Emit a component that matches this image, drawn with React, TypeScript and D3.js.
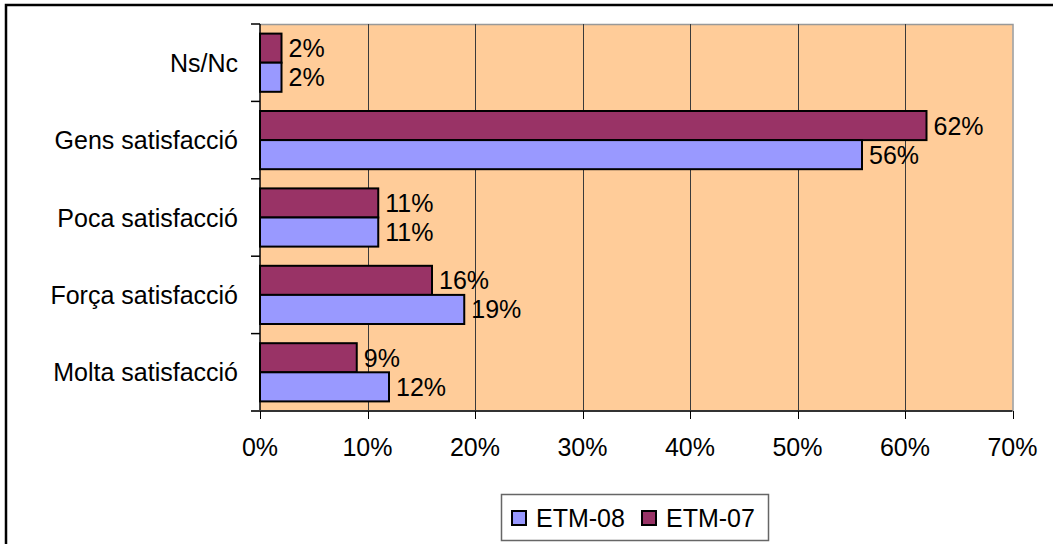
import React from "react";
import * as d3 from "d3";

const categories = ["Ns/Nc", "Gens satisfacció", "Poca satisfacció", "Força satisfacció", "Molta satisfacció"];
const etm08 = [2, 56, 11, 19, 12];
const etm07 = [2, 62, 11, 16, 9];
const xTicks = [0, 10, 20, 30, 40, 50, 60, 70];
const seriesNames = ["ETM-07", "ETM-08"];
const legendNames = ["ETM-08", "ETM-07"];

const W = 1053;
const H = 544;
const plot = { left: 260, top: 24, right: 1012.5, bottom: 411 };
const colors: Record<string, string> = { "ETM-07": "#993366", "ETM-08": "#9999FF" };
const FONT = "'Liberation Sans', Arial, sans-serif";

export default function App() {
  const x = d3.scaleLinear().domain([0, 70]).range([plot.left, plot.right]);
  const y = d3.scaleBand<string>().domain(categories).range([plot.top, plot.bottom]).padding(0);
  const inner = d3
    .scaleBand<string>()
    .domain(seriesNames)
    .range([0, y.bandwidth()])
    .paddingInner(0)
    .paddingOuter(0.33);

  const valuesFor = (s: string) => (s === "ETM-07" ? etm07 : etm08);

  return (
    <svg
      width={W}
      height={H}
      style={{ position: "absolute", left: 0, top: 0, background: "#fff" }}
      fontFamily={FONT}
    >
      {/* outer chart frame */}
      <rect x={6} y={5} width={W + 20} height={H + 20} fill="#fff" stroke="#000" strokeWidth={2.5} />

      {/* plot background */}
      <rect
        x={plot.left}
        y={plot.top}
        width={plot.right - plot.left}
        height={plot.bottom - plot.top}
        fill="#FFCC99"
      />
      {/* plot border (top/right) */}
      <path
        d={`M${plot.left},${plot.top + 0.5}H${plot.right + 0.5}V${plot.bottom}`}
        fill="none"
        stroke="#999"
        strokeWidth={1.5}
      />

      {/* vertical gridlines */}
      {xTicks.slice(1, -1).map((t) => (
        <line
          key={t}
          x1={Math.round(x(t)) + 0.5}
          x2={Math.round(x(t)) + 0.5}
          y1={plot.top}
          y2={plot.bottom}
          stroke="#3a3a3a"
          strokeWidth={1}
        />
      ))}

      {/* bars */}
      {seriesNames.map((s) =>
        categories.map((c, i) => {
          const v = valuesFor(s)[i];
          const by = (y(c) ?? 0) + (inner(s) ?? 0);
          const bh = inner.bandwidth();
          return (
            <g key={s + c}>
              <rect
                x={x(0)}
                y={by}
                width={x(v) - x(0)}
                height={bh}
                fill={colors[s]}
                stroke="#000"
                strokeWidth={2}
              />
              <text
                x={x(v) + 7}
                y={by + bh / 2}
                dy="0.36em"
                fontSize={25}
                fill="#000"
              >
                {v}%
              </text>
            </g>
          );
        })
      )}

      {/* y axis */}
      <line x1={plot.left} x2={plot.left} y1={plot.top} y2={plot.bottom} stroke="#000" strokeWidth={1.5} />
      {[...categories.map((c) => y(c) ?? 0), plot.bottom].map((yy, i) => (
        <line key={i} x1={plot.left - 9} x2={plot.left} y1={yy} y2={yy} stroke="#000" strokeWidth={1.5} />
      ))}
      {categories.map((c) => (
        <text
          key={c}
          x={238}
          y={(y(c) ?? 0) + y.bandwidth() / 2}
          dy="0.36em"
          textAnchor="end"
          fontSize={25}
          fill="#000"
        >
          {c}
        </text>
      ))}

      {/* x axis */}
      <line x1={plot.left - 9} x2={plot.right} y1={plot.bottom} y2={plot.bottom} stroke="#333" strokeWidth={2} />
      {xTicks.map((t) => (
        <g key={t}>
          <line
            x1={Math.round(x(t)) + 0.5}
            x2={Math.round(x(t)) + 0.5}
            y1={plot.bottom}
            y2={plot.bottom + 8}
            stroke="#000"
            strokeWidth={1}
          />
          <text x={x(t)} y={456} textAnchor="middle" fontSize={25} fill="#000">
            {t}%
          </text>
        </g>
      ))}

      {/* legend */}
      <rect x={501.5} y={494.5} width={267} height={46} fill="#fff" stroke="#666" strokeWidth={1.5} />
      {legendNames.map((s, i) => {
        const lx = i === 0 ? 512 : 642;
        return (
          <g key={s}>
            <rect x={lx} y={511} width={14} height={14} fill={colors[s]} stroke="#000" strokeWidth={2} />
            <text x={lx + 24} y={527} fontSize={25} fill="#000">
              {s}
            </text>
          </g>
        );
      })}
    </svg>
  );
}
